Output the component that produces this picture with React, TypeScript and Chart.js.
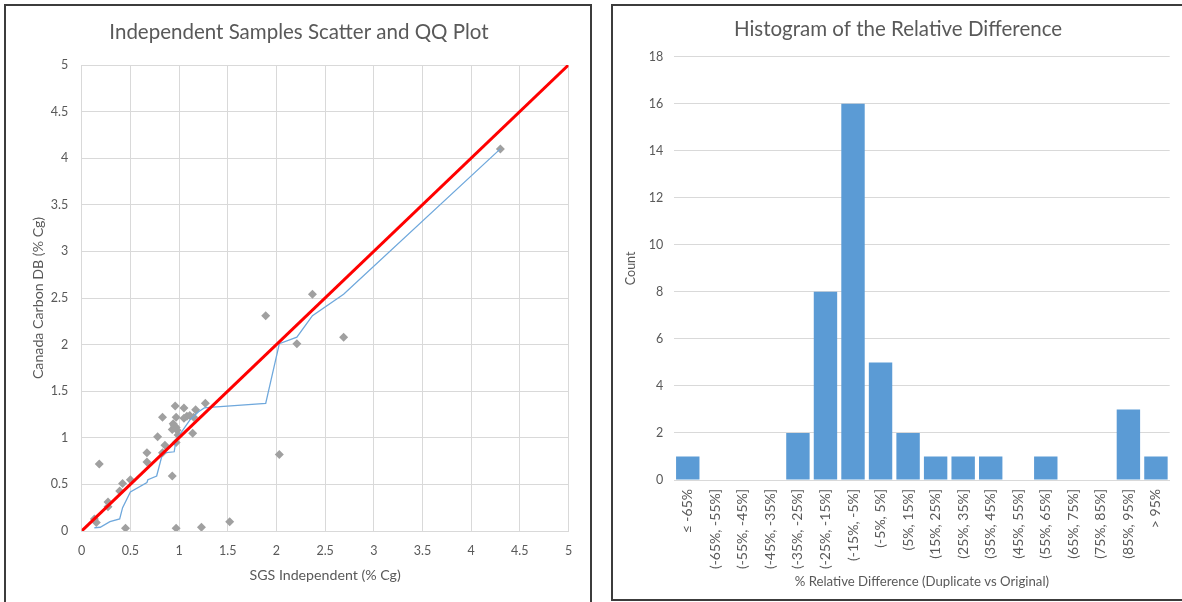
import React, { useEffect, useRef } from "react";
import { Chart, registerables } from "chart.js";

Chart.register(...registerables);

// ---------- Left chart data (scatter + QQ) ----------
const scatterX = [0.13, 0.15, 0.18, 0.27, 0.27, 0.39, 0.42, 0.45, 0.5, 0.67, 0.67, 0.78, 0.83, 0.83, 0.855, 0.93, 0.96, 0.97, 0.93, 0.95, 0.97, 0.98, 0.99, 0.97, 0.97, 1.05, 1.05, 1.08, 1.11, 1.15, 1.17, 1.14, 1.27, 1.23, 1.52, 1.89, 2.03, 2.21, 2.37, 2.69, 4.3, 0.94];
const scatterY = [0.13, 0.09, 0.72, 0.31, 0.26, 0.43, 0.51, 0.03, 0.55, 0.84, 0.74, 1.01, 1.22, 0.84, 0.92, 0.59, 1.34, 1.22, 1.09, 1.13, 1.11, 1.08, 1.03, 0.95, 0.03, 1.32, 1.21, 1.23, 1.24, 1.22, 1.3, 1.05, 1.37, 0.04, 0.1, 2.31, 0.82, 2.01, 2.54, 2.08, 4.1, 1.15];

const qqX = [0.13, 0.19, 0.29, 0.39, 0.42, 0.5, 0.67, 0.68, 0.77, 0.83, 0.87, 0.95, 0.97, 1.03, 1.11, 1.2, 1.26, 1.35, 1.89, 2.03, 2.21, 2.37, 2.69, 4.3];
const qqY = [0.035, 0.04, 0.1, 0.13, 0.25, 0.42, 0.52, 0.55, 0.59, 0.83, 0.84, 0.85, 0.98, 1.07, 1.19, 1.28, 1.32, 1.33, 1.37, 2.01, 2.08, 2.31, 2.54, 4.1];

const refX = [0, 5];
const refY = [0, 5];

// ---------- Right chart data (histogram) ----------
const histCategories = [
  "≤ -65%", "(-65%, -55%]", "(-55%, -45%]", "(-45%, -35%]", "(-35%, -25%]", "(-25%, -15%]",
  "(-15%, -5%]", "(-5%, 5%]", "(5%, 15%]", "(15%, 25%]", "(25%, 35%]", "(35%, 45%]",
  "(45%, 55%]", "(55%, 65%]", "(65%, 75%]", "(75%, 85%]", "(85%, 95%]", "> 95%",
];
const histCounts = [1, 0, 0, 0, 2, 8, 16, 5, 2, 1, 1, 1, 0, 1, 0, 0, 3, 1];

const FONT = "Lato, 'Open Sans', sans-serif";
const TXT = "#595959";
const GRID = "#d9d9d9";

const pts = (xs: number[], ys: number[]) => xs.map((x, i) => ({ x, y: ys[i] }));

export default function App() {
  const leftRef = useRef<HTMLCanvasElement | null>(null);
  const rightRef = useRef<HTMLCanvasElement | null>(null);

  useEffect(() => {
    const left = new Chart(leftRef.current as HTMLCanvasElement, {
      type: "scatter",
      data: {
        datasets: [
          {
            type: "line",
            label: "1:1",
            data: pts(refX, refY),
            borderColor: "#ff0000",
            borderWidth: 3,
            pointRadius: 0,
            fill: false,
            tension: 0,
          } as any,
          {
            type: "line",
            label: "QQ",
            data: pts(qqX, qqY),
            borderColor: "#6fa8dc",
            borderWidth: 1.3,
            pointRadius: 0,
            fill: false,
            tension: 0,
          } as any,
          {
            label: "Samples",
            data: pts(scatterX, scatterY),
            pointStyle: "rectRot",
            pointRadius: 4.5,
            backgroundColor: "#a0a0a0",
            borderColor: "#a0a0a0",
            borderWidth: 0,
            showLine: false,
          },
        ],
      },
      options: {
        responsive: false,
        animation: false,
        layout: { padding: { left: 29.5, right: 31.5, top: 0, bottom: 0 } },
        plugins: {
          legend: { display: false },
          tooltip: { enabled: false },
          title: {
            display: true,
            text: "Independent Samples Scatter and QQ Plot",
            color: TXT,
            font: { family: FONT, size: 20.5, weight: "normal" },
            padding: { top: 19.7, bottom: 20.7 },
          },
        },
        scales: {
          x: {
            type: "linear",
            min: 0,
            max: 5,
            ticks: {
              stepSize: 0.5,
              color: TXT,
              font: { family: FONT, size: 12.5 },
              padding: 12,
              callback: (v: any) => `${v}`,
            },
            grid: { color: GRID, drawTicks: false },
            border: { color: GRID },
            title: {
              display: true,
              text: "SGS Independent (% Cg)",
              color: TXT,
              font: { family: FONT, size: 14.2 },
              padding: { top: 0, bottom: 18.5 },
            },
            afterFit: (s: any) => {
              s.height = 71;
            },
          },
          y: {
            type: "linear",
            min: 0,
            max: 5,
            ticks: {
              stepSize: 0.5,
              color: TXT,
              font: { family: FONT, size: 12.5 },
              padding: 13.5,
              callback: (v: any) => `${v}`,
            },
            grid: { color: GRID, drawTicks: false },
            border: { color: GRID },
            title: {
              display: true,
              text: "Canada Carbon DB (% Cg)",
              color: TXT,
              font: { family: FONT, size: 14.2 },
              padding: { top: 0, bottom: 0 },
            },
            afterFit: (s: any) => {
              s.width = 52.2;
            },
          },
        },
      },
    });

    const right = new Chart(rightRef.current as HTMLCanvasElement, {
      type: "bar",
      data: {
        labels: histCategories,
        datasets: [
          {
            label: "Count",
            data: histCounts,
            backgroundColor: "#5b9bd5",
            barPercentage: 0.85,
            categoryPercentage: 1.0,
          },
        ],
      },
      options: {
        responsive: false,
        animation: false,
        layout: { padding: { left: 23.3, right: 9.3, top: 0, bottom: 0 } },
        plugins: {
          legend: { display: false },
          tooltip: { enabled: false },
          title: {
            display: true,
            text: "Histogram of the Relative Difference",
            color: TXT,
            font: { family: FONT, size: 20.5, weight: "normal" },
            padding: { top: 16.7, bottom: 15.4 },
          },
        },
        scales: {
          x: {
            ticks: {
              color: TXT,
              font: { family: FONT, size: 14 },
              minRotation: 90,
              maxRotation: 90,
              autoSkip: false,
              padding: 9,
            },
            grid: { display: false, drawTicks: false },
            border: { color: GRID },
            title: {
              display: true,
              text: "% Relative Difference (Duplicate vs Original)",
              color: TXT,
              font: { family: FONT, size: 13.2 },
              padding: { top: 0, bottom: 12.1 },
            },
            afterFit: (s: any) => {
              s.height = 122;
            },
          },
          y: {
            min: 0,
            max: 18,
            ticks: {
              stepSize: 2,
              color: TXT,
              font: { family: FONT, size: 12.5 },
              padding: 10.7,
            },
            grid: { color: GRID, drawTicks: false },
            border: { display: false },
            title: {
              display: true,
              text: "Count",
              color: TXT,
              font: { family: FONT, size: 12.5 },
              padding: { top: 0.3, bottom: 0 },
            },
            afterFit: (s: any) => {
              s.width = 50.7;
            },
          },
        },
      },
    });

    return () => {
      left.destroy();
      right.destroy();
    };
  }, []);

  return (
    <div
      style={{
        position: "fixed",
        left: 0,
        top: 0,
        width: 1182,
        height: 602,
        overflow: "hidden",
        background: "#ffffff",
      }}
    >
      <div
        style={{
          position: "absolute",
          left: 4,
          top: 4,
          width: 588,
          height: 640,
          boxSizing: "border-box",
          border: "2px solid #3c3c3c",
        }}
      />
      <div
        style={{
          position: "absolute",
          left: 611,
          top: 4,
          width: 600,
          height: 597,
          boxSizing: "border-box",
          border: "2px solid #3c3c3c",
        }}
      />
      <canvas
        ref={leftRef}
        width={600}
        height={602}
        style={{ position: "absolute", left: 0, top: 0, width: 600, height: 602 }}
      />
      <canvas
        ref={rightRef}
        width={582}
        height={602}
        style={{ position: "absolute", left: 600, top: 0, width: 582, height: 602 }}
      />
    </div>
  );
}
